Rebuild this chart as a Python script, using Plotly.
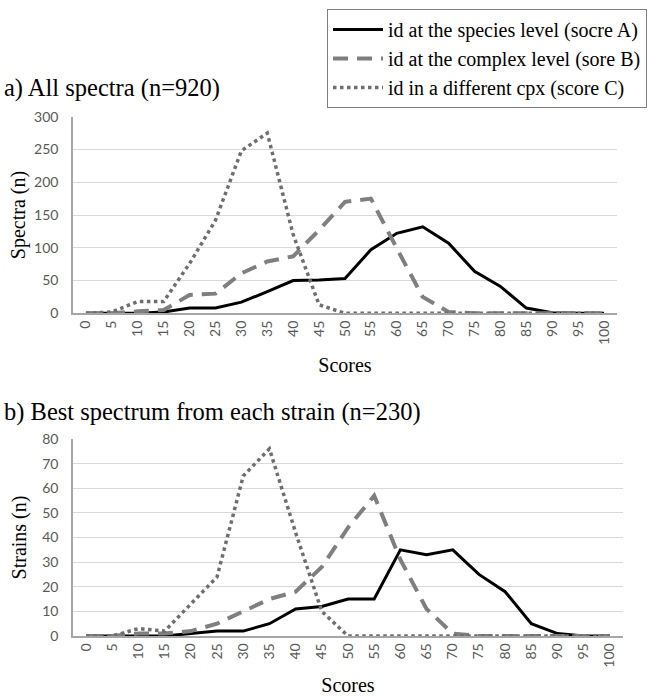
import plotly.graph_objects as go

# Identification score bins (x axis)
scores = list(range(0, 101, 5))

# a) All spectra (n=920)
all_species = [0, 0, 0, 2, 8, 8, 17, 33, 50, 51, 53, 97, 122, 132, 107, 64, 41, 8, 1, 0, 0]
all_complex = [0, 0, 3, 5, 28, 30, 61, 79, 87, 127, 170, 175, 99, 25, 2, 0, 0, 0, 0, 0, 0]
all_other = [0, 2, 18, 18, 76, 142, 248, 275, 120, 13, 0, 0, 0, 0, 0, 0, 0, 0, 0, 0, 0]

# b) Best spectrum from each strain (n=230)
best_species = [0, 0, 0, 0, 1, 2, 2, 5, 11, 12, 15, 15, 35, 33, 35, 25, 18, 5, 1, 0, 0]
best_complex = [0, 0, 1, 1, 2, 5, 10, 15, 18, 28, 44, 57, 31, 11, 1, 0, 0, 0, 0, 0, 0]
best_other = [0, 0, 3, 2, 13, 24, 65, 76, 42, 10, 0, 0, 0, 0, 0, 0, 0, 0, 0, 0, 0]

series_names = [
    "id at the species level (socre A)",
    "id at the complex level (sore B)",
    "id in a different cpx (score C)",
]

SERIF = "Liberation Serif"
SANS = "Lato"
W, H = 652, 696

styles = [
    dict(color="#000000", width=3, dash="solid"),
    dict(color="#7f7f7f", width=4, dash="15px,9px"),
    dict(color="#6e6e6e", width=3.5, dash="3.5px,3.5px"),
]

fig = go.Figure()

panels = [
    ("x", "y", [all_species, all_complex, all_other], True),
    ("x2", "y2", [best_species, best_complex, best_other], False),
]
for xa, ya, series, show in panels:
    for name, vals, st in zip(series_names, series, styles):
        fig.add_trace(go.Scatter(
            x=scores, y=vals, mode="lines", name=name,
            line=st, xaxis=xa, yaxis=ya, showlegend=show,
            hoverinfo="x+y",
        ))

tickfont = dict(family=SANS, size=14, color="#595959")
titlefont = dict(family=SERIF, size=20, color="#000000")
panelfont = dict(family=SERIF, size=24.5, color="#000000")

xcommon = dict(
    range=[-2.5, 102.5], tickmode="array", tickvals=scores,
    ticktext=[str(s) for s in scores], tickangle=-90, tickfont=tickfont,
    showgrid=False, zeroline=False, showline=True, linecolor="#a6a6a6",
    linewidth=1.5, ticks="", automargin=False,
    title=dict(text="Scores", font=titlefont, standoff=14),
)
ycommon = dict(
    tickfont=tickfont, showgrid=True, gridcolor="#d9d9d9", gridwidth=1.3,
    zeroline=False, showline=True, linecolor="#a6a6a6", linewidth=1.5,
    ticks="", automargin=False, ticklabelstandoff=10,
)

fig.update_layout(
    width=W, height=H,
    margin=dict(l=0, r=0, t=0, b=0, autoexpand=False),
    paper_bgcolor="white", plot_bgcolor="white",
    xaxis=dict(domain=[73 / W, 617 / W], anchor="y", **xcommon),
    yaxis=dict(domain=[1 - 313.3 / H, 1 - 116.7 / H], anchor="x",
               range=[0, 300], dtick=50,
               title=dict(text="Spectra (n)", font=titlefont, standoff=3),
               **ycommon),
    xaxis2=dict(domain=[73 / W, 623 / W], anchor="y2", **xcommon),
    yaxis2=dict(domain=[1 - 636 / H, 1 - 439 / H], anchor="x2",
                range=[0, 80], dtick=10,
                title=dict(text="Strains (n)", font=titlefont, standoff=10),
                **ycommon),
    legend=dict(
        xref="container", yref="container",
        x=327 / W, y=1 - 9 / H, xanchor="left", yanchor="top",
        font=dict(family=SERIF, size=20, color="#000000"),
        bordercolor="#7f7f7f", borderwidth=1, bgcolor="white",
        itemwidth=50, tracegroupgap=0,
    ),
    annotations=[
        dict(text="a) All spectra (n=920)", xref="paper", yref="paper",
             x=2 / W, y=1 - 88 / H, xanchor="left", yanchor="middle",
             showarrow=False, font=panelfont),
        dict(text="b) Best spectrum from each strain (n=230)", xref="paper", yref="paper",
             x=2 / W, y=1 - 412 / H, xanchor="left", yanchor="middle",
             showarrow=False, font=panelfont),
    ],
)

fig.write_html("out.html")
